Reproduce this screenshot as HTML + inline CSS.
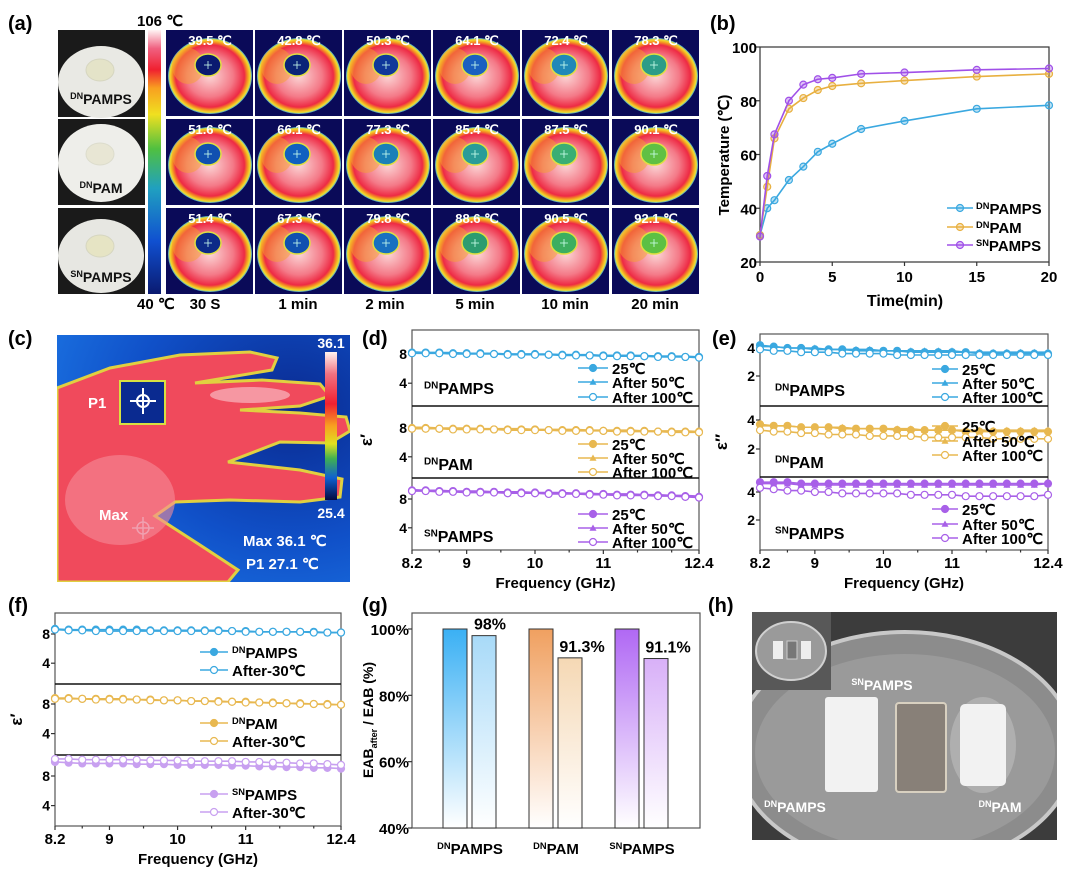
<!DOCTYPE html>
<html><head><meta charset="utf-8"><title>Figure</title>
<style>
html,body{margin:0;padding:0;background:#fff;}
svg{display:block;font-family:"Liberation Sans",Arial,sans-serif;}
.b{font-weight:bold;}
</style></head>
<body>
<svg id="fig" width="1080" height="879" viewBox="0 0 1080 879" xmlns="http://www.w3.org/2000/svg">
<defs>
<clipPath id="hclip"><rect x="752" y="612" width="305" height="228"/></clipPath>
<clipPath id="cclip"><rect x="57" y="335" width="293" height="247"/></clipPath>
<linearGradient id="cbar" x1="0" y1="0" x2="0" y2="1">
<stop offset="0" stop-color="#fff4f4"/><stop offset="0.07" stop-color="#f06080"/><stop offset="0.15" stop-color="#f02030"/><stop offset="0.22" stop-color="#f8a020"/><stop offset="0.32" stop-color="#f0e020"/><stop offset="0.45" stop-color="#50c040"/><stop offset="0.6" stop-color="#20a0c0"/><stop offset="0.8" stop-color="#1050d0"/><stop offset="1" stop-color="#0a1a70"/></linearGradient>
<linearGradient id="cbar2" x1="0" y1="0" x2="0" y2="1">
<stop offset="0" stop-color="#fff4f0"/><stop offset="0.15" stop-color="#f07080"/><stop offset="0.35" stop-color="#f02030"/><stop offset="0.5" stop-color="#f8a020"/><stop offset="0.62" stop-color="#e0e020"/><stop offset="0.72" stop-color="#40b050"/><stop offset="0.85" stop-color="#1060d0"/><stop offset="1" stop-color="#050a40"/></linearGradient>
<radialGradient id="donut" cx="0.5" cy="0.5" r="0.5">
<stop offset="0" stop-color="#fbd6d6"/><stop offset="0.55" stop-color="#f47a88"/><stop offset="0.82" stop-color="#ee2a44"/><stop offset="0.9" stop-color="#f59a20"/><stop offset="0.96" stop-color="#f0e030"/><stop offset="1" stop-color="#3aa0e0"/></radialGradient>
<radialGradient id="handbg" cx="0.8" cy="0.3" r="0.9">
<stop offset="0" stop-color="#0a2a90"/><stop offset="0.6" stop-color="#1050c8"/><stop offset="1" stop-color="#1a70e0"/></radialGradient>
<linearGradient id="gb1" x1="0" y1="0" x2="0" y2="1"><stop offset="0" stop-color="#3ab0f4"/><stop offset="1" stop-color="#ffffff"/></linearGradient>
<linearGradient id="gb2" x1="0" y1="0" x2="0" y2="1"><stop offset="0" stop-color="#a8daf8"/><stop offset="1" stop-color="#ffffff"/></linearGradient>
<linearGradient id="go1" x1="0" y1="0" x2="0" y2="1"><stop offset="0" stop-color="#f0a060"/><stop offset="1" stop-color="#ffffff"/></linearGradient>
<linearGradient id="go2" x1="0" y1="0" x2="0" y2="1"><stop offset="0" stop-color="#f5d8b4"/><stop offset="1" stop-color="#ffffff"/></linearGradient>
<linearGradient id="gp1" x1="0" y1="0" x2="0" y2="1"><stop offset="0" stop-color="#b068f4"/><stop offset="1" stop-color="#ffffff"/></linearGradient>
<linearGradient id="gp2" x1="0" y1="0" x2="0" y2="1"><stop offset="0" stop-color="#d8b0f8"/><stop offset="1" stop-color="#ffffff"/></linearGradient>
</defs>

<text x="8" y="30" class="b" font-size="20">(a)</text>
<text x="710" y="30" class="b" font-size="20">(b)</text>
<text x="8" y="345" class="b" font-size="20">(c)</text>
<text x="362" y="345" class="b" font-size="20">(d)</text>
<text x="712" y="345" class="b" font-size="20">(e)</text>
<text x="8" y="612" class="b" font-size="20">(f)</text>
<text x="362" y="612" class="b" font-size="20">(g)</text>
<text x="708" y="612" class="b" font-size="20">(h)</text>

<g>
<rect x="58" y="30" width="87" height="87" fill="#1a1a1a"/>
<ellipse cx="101" cy="82" rx="43" ry="36" fill="#e9e9e4"/>
<ellipse cx="100" cy="70" rx="14" ry="11" fill="#e4e3c8" stroke="#d6d6c0"/>
<text x="101" y="104" text-anchor="middle" class="b" font-size="14" fill="#111"><tspan font-size="9" dy="-5">DN</tspan><tspan dy="5">PAMPS</tspan></text>
<rect x="58" y="119" width="87" height="86" fill="#1a1a1a"/>
<ellipse cx="101" cy="163" rx="43" ry="39" fill="#eeeeea"/>
<ellipse cx="100" cy="154" rx="14" ry="11" fill="#e8e6d4" stroke="#dcdccc"/>
<text x="101" y="193" text-anchor="middle" class="b" font-size="14" fill="#111"><tspan font-size="9" dy="-5">DN</tspan><tspan dy="5">PAM</tspan></text>
<rect x="58" y="208" width="87" height="86" fill="#1a1a1a"/>
<ellipse cx="101" cy="256" rx="43" ry="37" fill="#e7e7e2"/>
<ellipse cx="100" cy="246" rx="14" ry="11" fill="#e6e4c4" stroke="#d6d6c0"/>
<text x="101" y="282" text-anchor="middle" class="b" font-size="14" fill="#111"><tspan font-size="9" dy="-5">SN</tspan><tspan dy="5">PAMPS</tspan></text>
</g>
<rect x="148" y="30" width="13" height="264" fill="url(#cbar)"/>
<text x="137" y="26" class="b" font-size="15">106 ℃</text>
<text x="137" y="309" class="b" font-size="15">40 ℃</text>
<g id="tiles"></g>

<g id="chartB"></g>

<g clip-path="url(#cclip)">
<rect x="57" y="335" width="293" height="247" fill="url(#handbg)"/>
<path d="M57,388 L110,368 L180,355 L250,352 L277,358 L272,370 L195,383 L262,380 L320,384 L330,396 L300,406 L240,410 L300,413 L346,417 L350,431 L330,443 L280,442 L228,462 L300,470 L342,479 L340,497 L300,502 L230,500 L175,502 L155,516 L200,545 L238,570 L228,582 L57,582 Z" fill="#f04a5c" stroke="#e0d040" stroke-width="3"/>
<ellipse cx="120" cy="500" rx="55" ry="45" fill="#f58c98" opacity="0.6"/>
<ellipse cx="250" cy="395" rx="40" ry="8" fill="#f8b8c0" opacity="0.7"/>
<rect x="120" y="381" width="45" height="43" fill="#0a2a90" stroke="#d8e040" stroke-width="2"/>
<g stroke="#fff" stroke-width="2" fill="none"><circle cx="143" cy="401" r="6"/><line x1="130" y1="401" x2="156" y2="401"/><line x1="143" y1="388" x2="143" y2="414"/></g>
<g stroke="#f0a0b0" stroke-width="1.5" fill="none"><circle cx="143" cy="528" r="6"/><line x1="132" y1="528" x2="154" y2="528"/><line x1="143" y1="517" x2="143" y2="539"/></g>
<text x="88" y="408" class="b" font-size="15" fill="#fff">P1</text>
<text x="99" y="520" class="b" font-size="15" fill="#fff">Max</text>
<rect x="325" y="352" width="12" height="148" fill="url(#cbar2)"/>
<text x="331" y="348" text-anchor="middle" class="b" font-size="14" fill="#fff">36.1</text>
<text x="331" y="518" text-anchor="middle" class="b" font-size="14" fill="#fff">25.4</text>
<text x="243" y="546" class="b" font-size="15" fill="#fff">Max  36.1 ℃</text>
<text x="246" y="569" class="b" font-size="15" fill="#fff">P1    27.1 ℃</text>
</g>

<g id="chartD"></g>
<g id="chartE"></g>
<g id="chartF"></g>
<g id="chartG"></g>

<g clip-path="url(#hclip)">
<rect x="752" y="612" width="305" height="228" fill="#3c3c3c"/>
<ellipse cx="905" cy="750" rx="170" ry="118" fill="#8c8c8c" stroke="#c8c8c8" stroke-width="4"/>
<ellipse cx="905" cy="752" rx="150" ry="98" fill="#9a9a9a"/>
<rect x="825" y="697" width="53" height="95" rx="3" fill="#f2f2f2"/>
<rect x="896" y="703" width="50" height="89" rx="3" fill="#888078" stroke="#d8d0c0" stroke-width="2"/>
<ellipse cx="983" cy="745" rx="33" ry="48" fill="#b8b8b8" opacity="0.7"/>
<rect x="960" y="704" width="46" height="82" rx="5" fill="#f2f2f2"/>
<rect x="752" y="612" width="79" height="78" fill="#585858"/>
<ellipse cx="791" cy="651" rx="35" ry="29" fill="#9a9a9a" stroke="#d0d0d0" stroke-width="2"/>
<rect x="773" y="641" width="10" height="18" fill="#eee"/><rect x="787" y="641" width="10" height="18" fill="#777" stroke="#ccc"/><rect x="801" y="641" width="10" height="18" fill="#eee"/>
<text x="882" y="690" text-anchor="middle" class="b" font-size="14" fill="#fff"><tspan font-size="9" dy="-5">SN</tspan><tspan dy="5">PAMPS</tspan></text>
<text x="795" y="812" text-anchor="middle" class="b" font-size="14" fill="#fff"><tspan font-size="9" dy="-5">DN</tspan><tspan dy="5">PAMPS</tspan></text>
<text x="1000" y="812" text-anchor="middle" class="b" font-size="14" fill="#fff"><tspan font-size="9" dy="-5">DN</tspan><tspan dy="5">PAM</tspan></text>
</g>
</svg>

<script>
var NS = 'http://www.w3.org/2000/svg';
var tileTimes = ['30 S','1 min','2 min','5 min','10 min','20 min'];
var tileTempsDNPAMPS = ['39.5','42.8','50.3','64.1','72.4','78.3'];
var tileTempsDNPAM = ['51.6','66.1','77.3','85.4','87.5','90.1'];
var tileTempsSNPAMPS = ['51.4','67.3','79.8','88.6','90.5','92.1'];

var timeMin = [0,0.5,1,2,3,4,5,7,10,15,20];
var tempDNPAMPS = [30,40,43,50.5,55.5,61,64,69.5,72.5,77,78.3];
var tempDNPAM = [30,48,66,77,81,84,85.5,86.5,87.5,89,90];
var tempSNPAMPS = [29.5,52,67.5,80,86,88,88.5,90,90.5,91.5,92];
var tempTicks = [20,40,60,80,100];
var timeTicks = [0,5,10,15,20];

var freq = [8.2,8.4,8.6,8.8,9.0,9.2,9.4,9.6,9.8,10.0,10.2,10.4,10.6,10.8,11.0,11.2,11.4,11.6,11.8,12.0,12.2,12.4];
var freqTicks = [8.2,9,10,11,12.4];
var dA25 = [8.2,8.2,8.2,8.1,8.1,8.1,8.0,8.0,8.0,8.0,7.9,7.9,7.9,7.8,7.8,7.8,7.8,7.7,7.7,7.7,7.6,7.6];
var dA50 = [8.3,8.2,8.2,8.2,8.1,8.1,8.1,8.0,8.0,8.0,8.0,7.9,7.9,7.9,7.8,7.8,7.8,7.8,7.7,7.7,7.7,7.6];
var dA100 = [8.1,8.1,8.1,8.0,8.0,8.0,8.0,7.9,7.9,7.9,7.9,7.8,7.8,7.8,7.7,7.7,7.7,7.7,7.6,7.6,7.6,7.5];
var dB25 = [8.0,8.0,7.9,7.9,7.9,7.9,7.8,7.8,7.8,7.8,7.7,7.7,7.7,7.7,7.6,7.6,7.6,7.6,7.5,7.5,7.5,7.5];
var dB50 = [8.1,8.1,8.0,8.0,8.0,7.9,7.9,7.9,7.9,7.8,7.8,7.8,7.8,7.7,7.7,7.7,7.7,7.6,7.6,7.6,7.6,7.5];
var dB100 = [7.9,7.9,7.9,7.8,7.8,7.8,7.8,7.7,7.7,7.7,7.7,7.6,7.6,7.6,7.6,7.5,7.5,7.5,7.5,7.4,7.4,7.4];
var dC25 = [9.2,9.2,9.1,9.1,9.0,9.0,9.0,8.9,8.9,8.9,8.8,8.8,8.8,8.7,8.7,8.6,8.6,8.6,8.5,8.5,8.4,8.3];
var dC50 = [9.3,9.2,9.2,9.1,9.1,9.1,9.0,9.0,9.0,8.9,8.9,8.9,8.8,8.8,8.7,8.7,8.7,8.6,8.6,8.5,8.5,8.4];
var dC100 = [9.1,9.1,9.0,9.0,8.9,8.9,8.9,8.8,8.8,8.8,8.7,8.7,8.7,8.6,8.6,8.5,8.5,8.5,8.4,8.4,8.3,8.2];
var eA25 = [4.2,4.1,4.0,4.0,3.9,3.9,3.9,3.8,3.8,3.8,3.8,3.7,3.7,3.7,3.7,3.7,3.6,3.6,3.6,3.6,3.6,3.6];
var eA50 = [4.1,4.1,4.0,4.0,4.0,3.9,3.9,3.9,3.9,3.8,3.8,3.8,3.8,3.8,3.8,3.7,3.7,3.7,3.7,3.7,3.7,3.7];
var eA100 = [3.9,3.8,3.8,3.7,3.7,3.7,3.6,3.6,3.6,3.6,3.5,3.5,3.5,3.5,3.5,3.5,3.5,3.5,3.5,3.5,3.5,3.5];
var eB25 = [3.7,3.6,3.6,3.5,3.5,3.5,3.4,3.4,3.4,3.4,3.3,3.3,3.3,3.3,3.3,3.2,3.2,3.2,3.2,3.2,3.2,3.2];
var eB50 = [3.6,3.6,3.6,3.5,3.5,3.5,3.5,3.4,3.4,3.4,3.4,3.4,3.3,3.3,3.3,3.3,3.3,3.3,3.3,3.3,3.3,3.3];
var eB100 = [3.3,3.2,3.2,3.1,3.1,3.0,3.0,3.0,2.9,2.9,2.9,2.9,2.8,2.8,2.8,2.8,2.8,2.7,2.7,2.7,2.7,2.7];
var eC25 = [4.7,4.7,4.7,4.6,4.6,4.6,4.6,4.6,4.6,4.6,4.6,4.6,4.6,4.6,4.6,4.6,4.6,4.6,4.6,4.6,4.6,4.6];
var eC50 = [4.6,4.6,4.6,4.5,4.5,4.5,4.5,4.5,4.5,4.5,4.5,4.5,4.5,4.5,4.5,4.5,4.5,4.5,4.5,4.5,4.5,4.6];
var eC100 = [4.3,4.2,4.1,4.1,4.0,4.0,3.9,3.9,3.9,3.9,3.9,3.8,3.8,3.8,3.8,3.7,3.7,3.7,3.7,3.7,3.7,3.8];
var fA0 = [8.7,8.6,8.6,8.6,8.6,8.6,8.6,8.5,8.5,8.5,8.5,8.5,8.5,8.4,8.4,8.3,8.3,8.3,8.3,8.3,8.2,8.2];
var fA1 = [8.6,8.5,8.5,8.4,8.4,8.4,8.4,8.4,8.4,8.4,8.4,8.4,8.4,8.4,8.3,8.3,8.3,8.3,8.3,8.2,8.2,8.2];
var fB0 = [8.8,8.8,8.7,8.7,8.7,8.7,8.6,8.6,8.5,8.5,8.4,8.4,8.4,8.3,8.3,8.2,8.2,8.1,8.1,8.0,8.0,7.9];
var fB1 = [8.7,8.7,8.7,8.6,8.6,8.6,8.6,8.5,8.5,8.5,8.4,8.4,8.3,8.3,8.2,8.2,8.1,8.1,8.0,8.0,7.9,7.9];
var fC0 = [9.9,9.8,9.7,9.7,9.7,9.7,9.6,9.6,9.6,9.5,9.5,9.5,9.5,9.4,9.4,9.3,9.3,9.2,9.2,9.1,9.1,9.0];
var fC1 = [10.3,10.3,10.2,10.2,10.2,10.2,10.2,10.1,10.1,10.1,10.0,10.0,10.0,10.0,9.9,9.9,9.8,9.8,9.7,9.7,9.6,9.5];
var barGroups = ['DNPAMPS','DNPAM','SNPAMPS'];
var barBefore = [100,100,100];
var barAfter = [98,91.3,91.1];
var barAfterLabels = ['98%','91.3%','91.1%'];
var barTicks = [40,60,80,100];

function mk(tag, parent){ var e=document.createElementNS(NS,tag); parent.appendChild(e); return e; }
function supText(parent, x, y, sup, main, size, anchor, fill){
  var t=mk('text',parent); t.setAttribute('x',x); t.setAttribute('y',y); t.setAttribute('font-size',size); t.setAttribute('font-weight','bold');
  t.setAttribute('text-anchor',anchor||'start'); if(fill) t.setAttribute('fill',fill);
  var s1=mk('tspan',t); s1.setAttribute('font-size',size*0.62); s1.setAttribute('dy',-size*0.35); s1.textContent=sup;
  var s2=mk('tspan',t); s2.setAttribute('dy',size*0.35); s2.textContent=main; return t;
}
function txt(parent,x,y,s,size,anchor,bold){
  var t=mk('text',parent); t.setAttribute('x',x); t.setAttribute('y',y); t.setAttribute('font-size',size);
  t.setAttribute('text-anchor',anchor||'start'); if(bold!==false) t.setAttribute('font-weight','bold'); t.textContent=s; return t;
}
function line(parent,x1,y1,x2,y2,col,w){ var l=mk('line',parent); l.setAttribute('x1',x1);l.setAttribute('y1',y1);l.setAttribute('x2',x2);l.setAttribute('y2',y2);l.setAttribute('stroke',col||'#333');l.setAttribute('stroke-width',w||1.2); return l;}
function marker(parent,type,x,y,col,r){
  var m;
  if(type==='tri'){ m=mk('path',parent); m.setAttribute('d','M'+x+','+(y-r)+' L'+(x+r)+','+(y+r*0.8)+' L'+(x-r)+','+(y+r*0.8)+' Z'); m.setAttribute('fill',col); }
  else { m=mk('circle',parent); m.setAttribute('cx',x); m.setAttribute('cy',y); m.setAttribute('r',r); m.setAttribute('stroke',col); m.setAttribute('stroke-width',1.2);
    m.setAttribute('fill', type==='open' ? '#fff' : (type==='half' ? col : '#fff')); if(type==='light'){m.setAttribute('fill-opacity','0.35');m.setAttribute('fill',col);} }
  return m;
}
function polyline(parent,pts,col,w){ var p=mk('polyline',parent); p.setAttribute('points',pts.join(' ')); p.setAttribute('fill','none'); p.setAttribute('stroke',col); p.setAttribute('stroke-width',w||1.6); return p; }

(function(){
  var g=document.getElementById('tiles');
  var cols=[166,255,344,433,522,612], rows=[30,119,208];
  var temps=[tileTempsDNPAMPS,tileTempsDNPAM,tileTempsSNPAMPS];
  var centers=[['#0a1a70','#0a2478','#10389a','#1a60c0','#2088b8','#2c9c88'],
               ['#1050b0','#1060c0','#1a80b8','#2a9c98','#3aae74','#60c044'],
               ['#0c2a88','#1050b0','#1870c0','#2c9c70','#3cae60','#5cc044']];
  for(var r=0;r<3;r++){ for(var c=0;c<6;c++){
    var x0=cols[c], y0=rows[r];
    var tg=mk('g',g);
    
    
    var bg=mk('rect',tg); bg.setAttribute('x',x0); bg.setAttribute('y',y0); bg.setAttribute('width',87); bg.setAttribute('height',86); bg.setAttribute('fill','#0a0a58');
    var el=mk('ellipse',tg); el.setAttribute('cx',x0+44); el.setAttribute('cy',y0+46); el.setAttribute('rx',42); el.setAttribute('ry',38); el.setAttribute('fill','url(#donut)');
    var ye=mk('ellipse',tg); ye.setAttribute('cx',x0+22); ye.setAttribute('cy',y0+36); ye.setAttribute('rx',16); ye.setAttribute('ry',18); ye.setAttribute('fill','#f5a030'); ye.setAttribute('opacity','0.5');
    var ce=mk('ellipse',tg); ce.setAttribute('cx',x0+42); ce.setAttribute('cy',y0+35); ce.setAttribute('rx',13); ce.setAttribute('ry',11); ce.setAttribute('fill',centers[r][c]); ce.setAttribute('stroke','#e0e040'); ce.setAttribute('stroke-width',1.5);
    line(tg,x0+38,y0+35,x0+46,y0+35,'#cfe',0.8); line(tg,x0+42,y0+31,x0+42,y0+39,'#cfe',0.8);
    var tt=txt(tg,x0+44,y0+15,temps[r][c]+' ℃',13,'middle'); tt.setAttribute('fill','#fff');
  }}
  var xc=[205,298,385,475,565,655];
  for(var i=0;i<6;i++){
    var lb=txt(g,xc[i],309,tileTimes[i],15,'middle');
    
    
  }
})();

(function(){
  var g=document.getElementById('chartB');
  var L=760,R=1049,T=47,B=262;
  function X(t){return L+(t-0)/(20-0)*(R-L);}
  function Y(v){return B-(v-20)/(100-20)*(B-T);}
  var fr=mk('rect',g); fr.setAttribute('x',L);fr.setAttribute('y',T);fr.setAttribute('width',R-L);fr.setAttribute('height',B-T);fr.setAttribute('fill','none');fr.setAttribute('stroke','#333');fr.setAttribute('stroke-width',1.2);
  
  
  tempTicks.forEach(function(v){ line(g,L-4,Y(v),L,Y(v)); var t=txt(g,L-3,Y(v)+6,String(v),15,'end');
    
     });
  timeTicks.forEach(function(v){ line(g,X(v),B,X(v),B+4); var t=txt(g,X(v),B+20,String(v),15,'middle');
    
     });
  var yt=txt(g,0,0,'Temperature (℃)',15,'middle'); yt.setAttribute('transform','translate(729,155) rotate(-90)');
  
  
  var xt=txt(g,905,306,'Time(min)',16,'middle');
  
  
  var series=[[tempDNPAMPS,'#3aa8e0','DNPAMPS'],[tempDNPAM,'#e8b040','DNPAM'],[tempSNPAMPS,'#a050e8','SNPAMPS']];
  series.forEach(function(s,k){
    var sg=mk('g',g);
    
    
    var pts=s[0].map(function(v,i){return X(timeMin[i])+','+Y(v);});
    polyline(sg,pts,s[1],1.6);
    s[0].forEach(function(v,i){ var m=marker(sg,'light',X(timeMin[i]),Y(v),s[1],3.5);
      
       });
    var ly=[208,227,245][k];
    var lg=mk('g',g);
    
    
    line(lg,947,ly,973,ly,s[1],1.6); marker(lg,'light',960,ly,s[1],3.5);
    supText(lg,976,ly+6,s[2].slice(0,2),s[2].slice(2),15);
  });
})();

function freqChart(g,L,R,T,B,panels,yTitle,yTitleX,legX){
  function X(f){return L+(f-8.2)/(12.4-8.2)*(R-L);}
  var fr=mk('rect',g); fr.setAttribute('x',L);fr.setAttribute('y',T);fr.setAttribute('width',R-L);fr.setAttribute('height',B-T);fr.setAttribute('fill','none');fr.setAttribute('stroke','#555');fr.setAttribute('stroke-width',1.2);
  
  
  panels.forEach(function(p,pi){
    function Y(v){return p.refPx-(v-p.refVal)*p.ppu;}
    if(pi>0) line(g,L,p.top,R,p.top,'#111',1.4);
    p.ticks.forEach(function(v){ line(g,L-4,Y(v),L,Y(v)); var t=txt(g,L-5,Y(v)+5,String(v),14,'end');
      
       });
    p.series.forEach(function(s){
      var sg=mk('g',g);
      
      
      polyline(sg,s.vals.map(function(v,i){return X(freq[i])+','+Y(v);}),p.color,1.6);
      s.vals.forEach(function(v,i){ var m=marker(sg,s.type,X(freq[i]),Y(v),p.color,3.5);
        
         });
    });
    if(p.label){ var lb=supText(g,p.labelX,p.top+p.labelDy,p.label.slice(0,2),p.label.slice(2),16);
      
       }
    p.legend.forEach(function(le,k){
      var ly=p.top+p.legDy[k];
      var lg=mk('g',g);
      
      
      line(lg,legX[0],ly,legX[1],ly,p.color,1.6); marker(lg,p.series[k].type,(legX[0]+legX[1])/2,ly,p.color,3.5);
      if(le.indexOf('|')>0){ var sp=le.split('|'); supText(lg,legX[2],ly+6,sp[0],sp[1],15); }
      else txt(lg,legX[2],ly+6,le,15,'start');
    });
  });
  var ticksMinor=[8.6,9.5,10.5,11.5,12];
  freqTicks.forEach(function(f){ line(g,X(f),B,X(f),B+4); var t=txt(g,X(f),B+18,String(f),15,'middle');
    
     });
  ticksMinor.forEach(function(f){ line(g,X(f),B,X(f),B+2.5); });
  var xt=txt(g,(L+R)/2,B+38,'Frequency (GHz)',15,'middle');
  
  
  var yt=txt(g,0,0,yTitle,17,'middle'); yt.setAttribute('transform','translate('+yTitleX+','+((T+B)/2)+') rotate(-90)');
  
  
}
var blue='#3aa8e0', gold='#e8b850', purple='#a860e8';
var legTemp=['25℃','After 50℃','After 100℃'];
freqChart(document.getElementById('chartD'),412,699,330,550,[
 {top:330,refVal:8,refPx:354,ppu:7.3,ticks:[4,8],color:blue,label:'DNPAMPS',labelX:424,labelDy:64,legDy:[38,52,67],legend:legTemp,series:[{vals:dA25,type:'half'},{vals:dA50,type:'tri'},{vals:dA100,type:'open'}]},
 {top:406,refVal:8,refPx:428,ppu:7.2,ticks:[4,8],color:gold,label:'DNPAM',labelX:424,labelDy:64,legDy:[38,52,66],legend:legTemp,series:[{vals:dB25,type:'half'},{vals:dB50,type:'tri'},{vals:dB100,type:'open'}]},
 {top:478,refVal:8,refPx:499,ppu:7.2,ticks:[4,8],color:purple,label:'SNPAMPS',labelX:424,labelDy:64,legDy:[36,50,64],legend:legTemp,series:[{vals:dC25,type:'half'},{vals:dC50,type:'tri'},{vals:dC100,type:'open'}]}
],'ε′',372,[578,608,612]);
freqChart(document.getElementById('chartE'),760,1048,334,550,[
 {top:334,refVal:4,refPx:348,ppu:14,ticks:[2,4],color:blue,label:'DNPAMPS',labelX:775,labelDy:62,legDy:[35,49,63],legend:legTemp,series:[{vals:eA25,type:'half'},{vals:eA50,type:'tri'},{vals:eA100,type:'open'}]},
 {top:406,refVal:4,refPx:420,ppu:14.5,ticks:[2,4],color:gold,label:'DNPAM',labelX:775,labelDy:62,legDy:[20,35,49],legend:legTemp,series:[{vals:eB25,type:'half'},{vals:eB50,type:'tri'},{vals:eB100,type:'open'}]},
 {top:477,refVal:4,refPx:492,ppu:14,ticks:[2,4],color:purple,label:'SNPAMPS',labelX:775,labelDy:62,legDy:[32,47,61],legend:legTemp,series:[{vals:eC25,type:'half'},{vals:eC50,type:'tri'},{vals:eC100,type:'open'}]}
],'ε″',727,[932,958,962]);
freqChart(document.getElementById('chartF'),55,341,613,826,[
 {top:613,refVal:8,refPx:634,ppu:7.3,ticks:[4,8],color:blue,label:null,legDy:[39,57],legend:['DN|PAMPS','After-30℃'],series:[{vals:fA0,type:'half'},{vals:fA1,type:'open'}]},
 {top:684,refVal:8,refPx:704,ppu:7.4,ticks:[4,8],color:gold,label:null,legDy:[39,57],legend:['DN|PAM','After-30℃'],series:[{vals:fB0,type:'half'},{vals:fB1,type:'open'}]},
 {top:755,refVal:8,refPx:776,ppu:7.4,ticks:[4,8],color:'#c8a0f0',label:null,legDy:[39,57],legend:['SN|PAMPS','After-30℃'],series:[{vals:fC0,type:'half'},{vals:fC1,type:'open'}]}
],'ε′',22,[200,228,232]);

(function(){
  var g=document.getElementById('chartG');
  var L=412,R=700,T=613,B=828;
  function Y(v){return B-(v-40)/(100-40)*(B-629);}
  var fr=mk('rect',g); fr.setAttribute('x',L);fr.setAttribute('y',T);fr.setAttribute('width',R-L);fr.setAttribute('height',B-T);fr.setAttribute('fill','none');fr.setAttribute('stroke','#555');fr.setAttribute('stroke-width',1.2);
  
  
  barTicks.forEach(function(v){ line(g,L-4,Y(v),L,Y(v)); var t=txt(g,L-3,Y(v)+6,v+'%',15,'end');
    
     });
  var gx=[443,529,615], w=24, gap=29;
  var fills=[['url(#gb1)','url(#gb2)'],['url(#go1)','url(#go2)'],['url(#gp1)','url(#gp2)']];
  barGroups.forEach(function(name,i){
    var b1=mk('rect',g); b1.setAttribute('x',gx[i]); b1.setAttribute('y',Y(barBefore[i])); b1.setAttribute('width',w); b1.setAttribute('height',B-Y(barBefore[i])); b1.setAttribute('fill',fills[i][0]); b1.setAttribute('stroke','#333');
    
    
    var b2=mk('rect',g); b2.setAttribute('x',gx[i]+gap); b2.setAttribute('y',Y(barAfter[i])); b2.setAttribute('width',w); b2.setAttribute('height',B-Y(barAfter[i])); b2.setAttribute('fill',fills[i][1]); b2.setAttribute('stroke','#333');
    
    
    var vl=txt(g,gx[i]+gap+w/2+(i===0?6:12),Y(barAfter[i])-6,barAfterLabels[i],16,'middle');
    
    
    var cl=supText(g,gx[i]+gap-2,854,name.slice(0,2),name.slice(2),15,'middle');
    
    
  });
  var yt=mk('text',g); yt.setAttribute('font-size',14); yt.setAttribute('font-weight','bold'); yt.setAttribute('text-anchor','middle');
  yt.setAttribute('transform','translate(373,720) rotate(-90)');
  var a=mk('tspan',yt); a.textContent='EAB';
  var b=mk('tspan',yt); b.setAttribute('font-size',9); b.setAttribute('dy',4); b.textContent='after';
  var c=mk('tspan',yt); c.setAttribute('dy',-4); c.textContent=' / EAB (%)';
  
  
})();
</script>
</body></html>
